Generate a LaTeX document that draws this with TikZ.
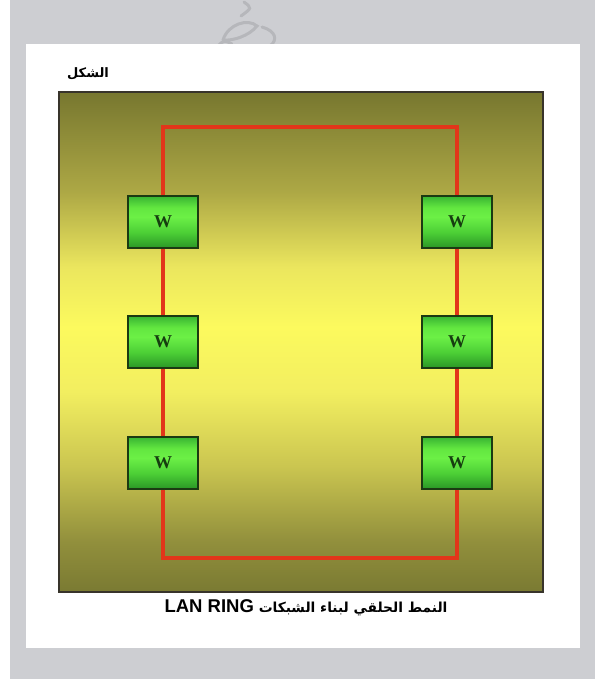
\documentclass[tikz,border=0pt]{standalone}
\usepackage{fontspec}
\setmainfont{Liberation Serif}
\newfontfamily\arabicfont[Script=Arabic]{DejaVu Sans}
\newfontfamily\latinbold{Liberation Sans}
\TeXXeTstate=1
\definecolor{pagegray}{HTML}{CDCED2}
\definecolor{markgray}{HTML}{B6B7BB}
\definecolor{ringRed}{HTML}{E2361A}
\definecolor{greenEdge}{HTML}{1B3A12}
\definecolor{wText}{HTML}{163E10}
% field colours, top to bottom
\definecolor{fA}{HTML}{77772F}
\definecolor{fB}{HTML}{ADA845}
\definecolor{fC}{HTML}{EBE65E}
\definecolor{fD}{HTML}{FCFA5E}
\definecolor{fE}{HTML}{F2EE60}
\definecolor{fF}{HTML}{CAC550}
\definecolor{fG}{HTML}{918F3C}
\definecolor{fH}{HTML}{7A7A32}
% station colours, top to bottom
\definecolor{gA}{HTML}{38B432}
\definecolor{gB}{HTML}{62E640}
\definecolor{gC}{HTML}{6CF046}
\definecolor{gD}{HTML}{4CCF36}
\definecolor{gE}{HTML}{2A9626}
% vertical colour ramp of the field (path spans 25bp..75bp)
\pgfdeclareverticalshading{fieldramp}{100bp}{%
  color(0bp)=(fH); color(25bp)=(fH);
  color(30bp)=(fG); color(37.5bp)=(fF);
  color(45bp)=(fE); color(51.5bp)=(fD);
  color(57.5bp)=(fC); color(65bp)=(fB);
  color(75bp)=(fA); color(100bp)=(fA)}
% colour ramp of a station box
\pgfdeclareverticalshading{stationramp}{100bp}{%
  color(0bp)=(gE); color(25bp)=(gE);
  color(40bp)=(gD); color(55bp)=(gC);
  color(64bp)=(gB); color(75bp)=(gA); color(100bp)=(gA)}
\tikzset{
  station/.style={draw=greenEdge, line width=1.3pt, minimum width=70pt, minimum height=52pt,
    inner sep=0pt, shading=stationramp,
    font=\bfseries\fontsize{18}{18}\selectfont, text=wText},
  ring/.style={draw=ringRed, line width=3.2pt, line join=miter},
  logostroke/.style={draw=markgray, line width=3pt, line cap=round}
}
\begin{document}
\begin{tikzpicture}[x=1pt,y=-1pt]
\useasboundingbox (0,0) rectangle (595,679);
% page background and white sheet
\fill[pagegray] (0,0) rectangle (595,679);
\fill[white] (0,0) rectangle (10,679);
% faint calligraphic logo at the top
\draw[logostroke] (244,2) .. controls (252,8) .. (241,16);
\draw[logostroke] (223,40) .. controls (228,24) and (248,18) .. (257,26) .. controls (249,36) and (233,41) .. (223,40);
\draw[logostroke] (262,27) .. controls (276,31) and (278,40) .. (270,46);
\draw[logostroke] (218,46) .. controls (224,40) .. (232,44);
\fill[white] (26,44) rectangle (580,648);
% shaded field
\shade[shading=fieldramp] (59,92) rectangle (543,592);
\draw[black!80!olive, line width=1.2pt] (59,92) rectangle (543,592);
% title
\node[font=\arabicfont\bfseries\fontsize{13}{13}\selectfont] (title) at (88,74) {\beginR الشكل\endR};
% stations
\node[station] (L1) at (163,222) {W};
\node[station] (L2) at (163,342) {W};
\node[station] (L3) at (163,463) {W};
\node[station] (R1) at (457,222) {W};
\node[station] (R2) at (457,342) {W};
\node[station] (R3) at (457,463) {W};
\coordinate (TL) at (163,127);
\coordinate (TR) at (457,127);
\coordinate (BL) at (163,558);
\coordinate (BR) at (457,558);
% ring cabling
\draw[ring] (L1.north) -- (TL) -- (TR) -- (R1.north);
\draw[ring] (L1.south) -- (L2.north);
\draw[ring] (L2.south) -- (L3.north);
\draw[ring] (L3.south) -- (BL) -- (BR) -- (R3.south);
\draw[ring] (R1.south) -- (R2.north);
\draw[ring] (R2.south) -- (R3.north);
% caption
\node[font=\arabicfont\bfseries\fontsize{13.8}{14}\selectfont] (caption) at (306,608)
  {\beginR النمط الحلقي لبناء الشبكات \beginL{\latinbold\bfseries\fontsize{18.5}{18.5}\selectfont LAN RING}\endL\endR};
\end{tikzpicture}
\end{document}
